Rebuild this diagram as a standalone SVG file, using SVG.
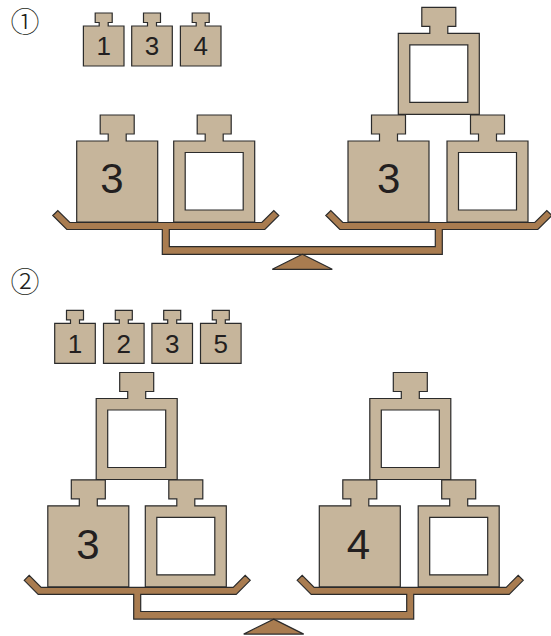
<svg xmlns="http://www.w3.org/2000/svg" xmlns:xlink="http://www.w3.org/1999/xlink" width="551" height="636" viewBox="0 0 551 636">
<style>
.w{fill:#C6B59B;stroke:#2b2b2b;stroke-width:1.2;fill-rule:evenodd}
.beam{fill:#A97C50;stroke:#2b2b2b;stroke-width:1.2;stroke-linejoin:miter}
.big{font-family:"Liberation Sans",Arial,sans-serif;font-size:42px;fill:#231F20;text-anchor:middle}
.sm{font-family:"Liberation Sans",Arial,sans-serif;font-size:26px;fill:#231F20;text-anchor:middle}
.num{font-family:"Noto Sans CJK JP","DejaVu Sans",sans-serif;font-size:29px;font-weight:300;fill:#231F20;text-anchor:middle}
</style>
<defs>
<path id="bigW" class="w" d="M-17,-26H17V-7H9V0H40.5V81H-40.5V0H-9V-7H-17Z"/>
<path id="bigH" class="w" d="M-17,-26H17V-7H9V0H40.5V81H-40.5V0H-9V-7H-17Z M-29,11.5V69H29V11.5Z"/>
<path id="smW" class="w" d="M-8.5,-13H8.5V-3.5H4.5V0H20.3V40H-20.3V0H-4.5V-3.5H-8.5Z"/>
<g id="scale">
<path class="beam" d="M52.8,215.5L57.8,210.5L69.8,222.5H261.8L273.8,210.5L278.8,215.5L264.8,229.5H169.3V246.7H435.3V229.5H339.8L325.8,215.5L330.8,210.5L342.8,222.5H534.8L546.8,210.5L551.8,215.5L537.8,229.5H442.3V254.3H162.3V229.5H66.8Z"/>
<path class="beam" d="M302.3,254.3L332.3,269.3H272.3Z"/>
</g>
</defs>

<g id="section1">
<text class="num" x="25" y="33.2">①</text>
<g id="s1-small">
<use href="#smW" x="103.7" y="26"/><text class="sm" x="103.7" y="55">1</text>
<use href="#smW" x="152" y="26"/><text class="sm" x="152" y="55">3</text>
<use href="#smW" x="200.7" y="26"/><text class="sm" x="200.7" y="55">4</text>
</g>
<g id="s1-scale">
<use href="#scale"/>
</g>
<g id="s1-left">
<use href="#bigW" x="117.2" y="141"/><text class="big" x="112" y="193">3</text>
<use href="#bigH" x="214.2" y="141"/>
</g>
<g id="s1-right">
<use href="#bigW" x="388.5" y="141"/><text class="big" x="388.7" y="193">3</text>
<use href="#bigH" x="487.5" y="141"/>
<use href="#bigH" x="438.8" y="33.3"/>
</g>
</g>

<g id="section2">
<text class="num" x="25" y="293.2">②</text>
<g id="s2-small">
<use href="#smW" x="75" y="323.3"/><text class="sm" x="75" y="353">1</text>
<use href="#smW" x="123.8" y="323.3"/><text class="sm" x="123.8" y="353">2</text>
<use href="#smW" x="172.2" y="323.3"/><text class="sm" x="172.2" y="353">3</text>
<use href="#smW" x="220.8" y="323.3"/><text class="sm" x="220.8" y="353">5</text>
</g>
<g id="s2-scale">
<use href="#scale" transform="translate(-28.6,364.8)"/>
</g>
<g id="s2-left">
<use href="#bigW" x="88.3" y="505.8"/><text class="big" x="88" y="559">3</text>
<use href="#bigH" x="185.8" y="505.8"/>
<use href="#bigH" x="136.7" y="398.5"/>
</g>
<g id="s2-right">
<use href="#bigW" x="359.8" y="505.8"/><text class="big" x="358.5" y="559">4</text>
<use href="#bigH" x="458.7" y="505.8"/>
<use href="#bigH" x="410.3" y="398.5"/>
</g>
</g>
</svg>
